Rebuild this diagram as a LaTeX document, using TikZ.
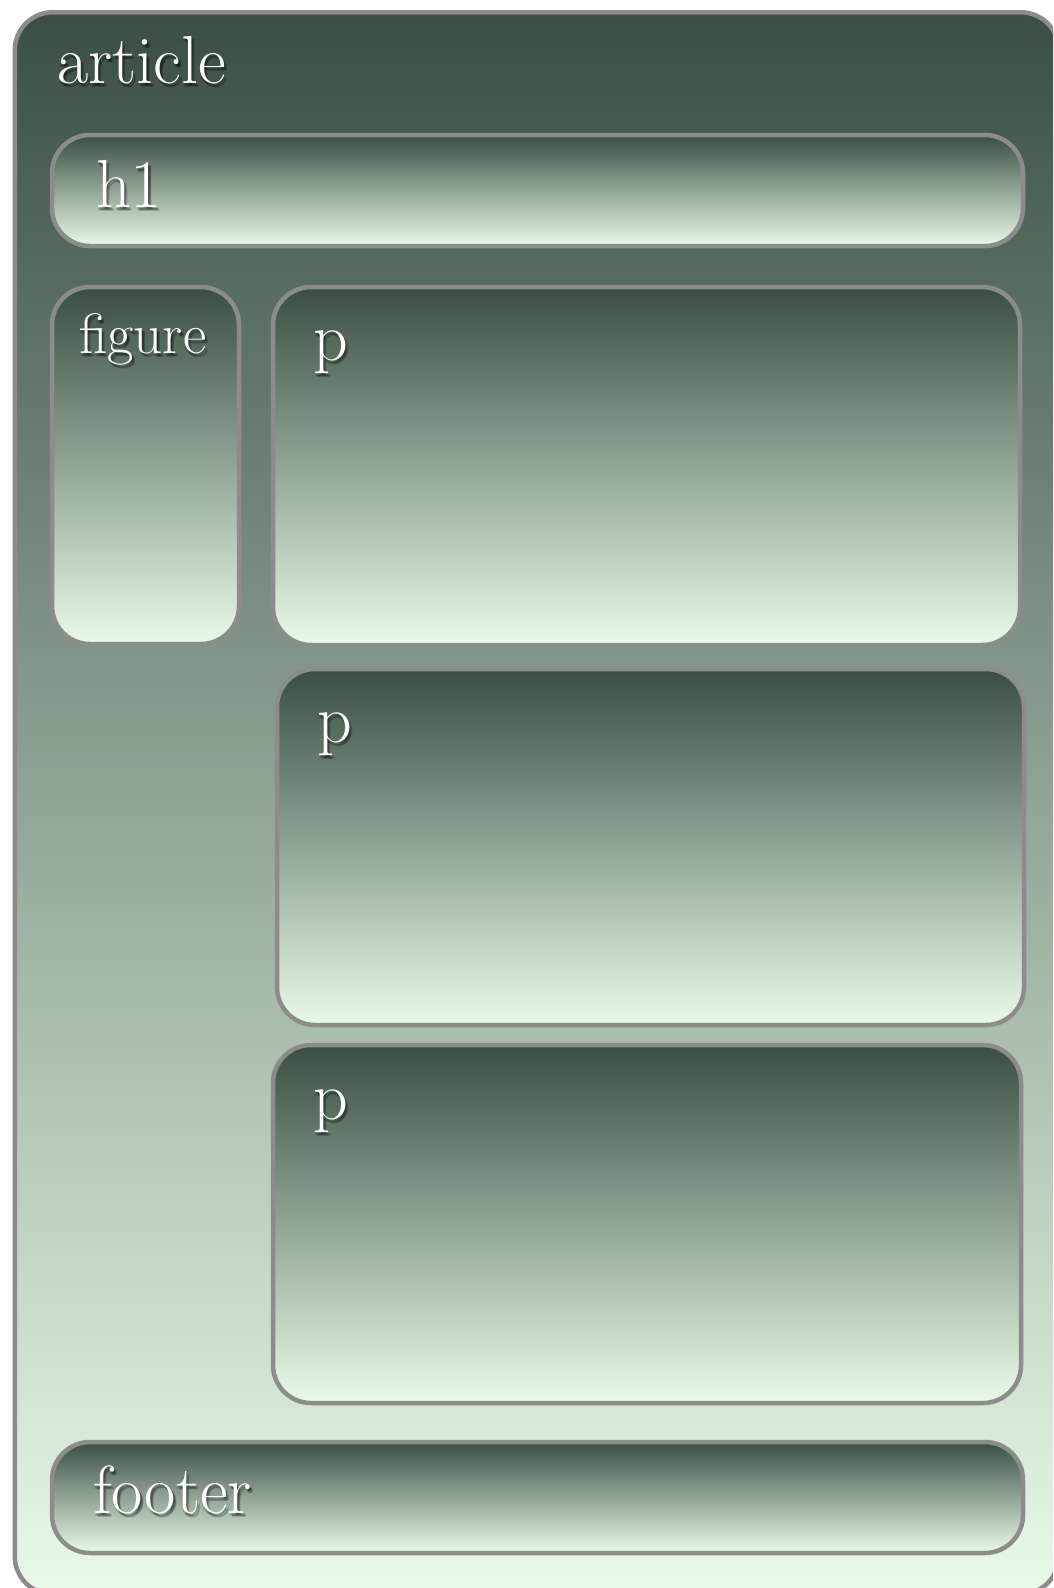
\documentclass[tikz,border=0pt]{standalone}
\usetikzlibrary{shadings}
\definecolor{gtop}{RGB}{58,79,66}
\definecolor{gbot}{RGB}{234,250,232}
\definecolor{edge}{RGB}{140,140,140}
\tikzset{
  box/.style={draw=edge, line width=4.5pt, rounded corners=38pt, top color=gtop, bottom color=gbot,
    anchor=north west, inner sep=0pt, outer sep=0pt, rectangle},
  lbl/.style={anchor=base west, inner sep=0pt, text=white},
  shd/.style={anchor=base west, inner sep=0pt, text=black, opacity=0.18},
  big/.style={font=\fontsize{68}{68}\selectfont},
  mid/.style={font=\fontsize{57}{57}\selectfont}
}
\begin{document}
\begin{tikzpicture}[x=1pt,y=-1pt]
\useasboundingbox (0,0) rectangle (1053,1588);
\clip (0,0) rectangle (1053,1588);
\fill[white] (0,0) rectangle (1053,1588);
% outer article box (runs past the right and bottom edges)
\node[box, minimum width=1044pt, minimum height=1582pt] (article) at (14.75,12.25) {};
% inner boxes
\node[box, minimum width=971pt, minimum height=111pt] (h1) at (52,135) {};
\node[box, minimum width=187pt, minimum height=357pt] (figure) at (52,287) {};
\node[box, minimum width=747pt, minimum height=358pt] (p1) at (273,287) {};
\node[box, minimum width=747pt, minimum height=356pt] (p2) at (277,669) {};
\node[box, minimum width=748pt, minimum height=358pt] (p3) at (273,1045) {};
\node[box, minimum width=971pt, minimum height=111pt] (footer) at (52,1442) {};
% soft text shadows (several faint copies)
\foreach \dx/\dy [count=\k] in {1.5/2, 3/3.5, 2.5/4.5, 0.5/3}{
  \node[shd, big] (articleS\k) at (57+\dx,83+\dy) {article};
  \node[shd, big] (h1S\k) at (96+\dx,207+\dy) {h1};
  \node[shd, mid] (figureS\k) at (79+\dx,353+\dy) {figure};
  \node[shd, big] (p1S\k) at (313+\dx,360+\dy) {p};
  \node[shd, big] (p2S\k) at (317+\dx,742+\dy) {p};
  \node[shd, big] (p3S\k) at (313+\dx,1119+\dy) {p};
  \node[shd, big] (footerS\k) at (93+\dx,1513+\dy) {footer};
}
% labels
\node[lbl, big] (articleL) at (57,83) {article};
\node[lbl, big] (h1L) at (96,207) {h1};
\node[lbl, mid] (figureL) at (79,353) {figure};
\node[lbl, big] (p1L) at (313,360) {p};
\node[lbl, big] (p2L) at (317,742) {p};
\node[lbl, big] (p3L) at (313,1119) {p};
\node[lbl, big] (footerL) at (93,1513) {footer};
\end{tikzpicture}
\end{document}
